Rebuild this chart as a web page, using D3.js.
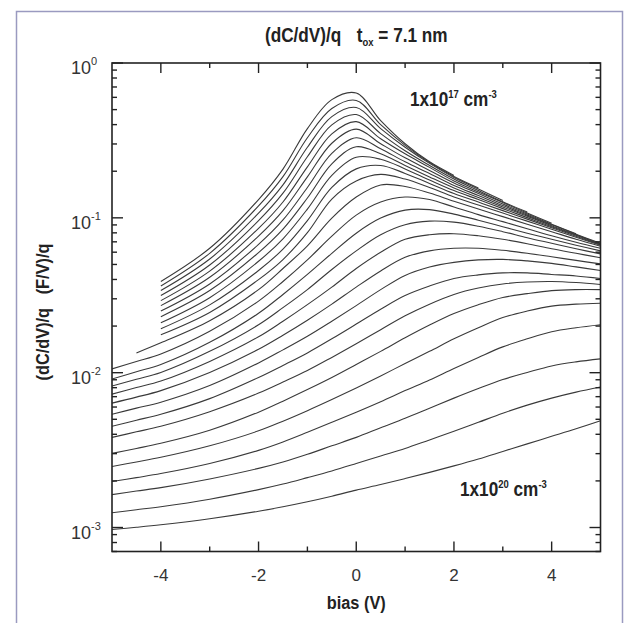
<!DOCTYPE html>
<html lang="en">
<head>
<meta charset="UTF-8">
<title>(dC/dV)/q  tox = 7.1 nm</title>
<script src="https://d3js.org/d3.v7.min.js"></script>
<style>
  body { margin: 0; background: #fff; }
  svg { display: block; }
  .cond { font-family: "Liberation Sans", Arial, sans-serif; font-weight: bold; fill: #222; }
  .num { font-family: "Liberation Sans", Arial, sans-serif; fill: #333; }
</style>
</head>
<body>
<svg id="chart" width="635" height="623"></svg>
<script>
// bias points (V) shared by every curve; null = curve not drawn there
const bias = [-5, -4.5, -4, -3, -2, -1.5, -1, -0.5, 0, 0.5, 1, 1.5, 2, 2.5, 3, 3.5, 4, 4.5, 5];

// (dC/dV)/q in (F/V)/q, top curve = 1x10^17 cm^-3 ... bottom = 1x10^20 cm^-3
const curve01 = [null, null, 0.0388, 0.0636, 0.1313, 0.2065, 0.377, 0.58, 0.64, 0.4245, 0.301, 0.230, 0.188, null, null, null, null, null, null];
const curve02 = [null, null, 0.0363, 0.0590, 0.1194, 0.1846, 0.329, 0.508, 0.573, 0.400, 0.294, 0.228, 0.185, 0.156, null, null, null, null, null];
const curve03 = [null, null, 0.0339, 0.0542, 0.1072, 0.1633, 0.2856, 0.4506, 0.5155, 0.377, 0.2856, 0.2248, 0.1824, 0.1536, 0.1293, null, null, null, null];
const curve04 = [null, null, 0.0315, 0.0496, 0.0959, 0.1443, 0.248, 0.3987, 0.4644, 0.350, 0.271, 0.218, 0.178, 0.150, 0.127, 0.109, null, null, null];
const curve05 = [null, null, 0.0292, 0.0453, 0.0855, 0.1266, 0.2134, 0.3485, 0.418, 0.324, 0.259, 0.2118, 0.173, 0.147, 0.1255, 0.1073, 0.0924, null, null];
const curve06 = [null, null, 0.0271, 0.0413, 0.0762, 0.1112, 0.1838, 0.3033, 0.3739, 0.301, 0.244, 0.2025, 0.168, 0.1436, 0.1227, 0.1057, 0.0910, 0.0790, null];
const curve07 = [null, null, 0.0250, 0.0374, 0.0674, 0.0969, 0.1571, 0.261, 0.329, 0.2793, 0.230, 0.1936, 0.1618, 0.1394, 0.1200, 0.1041, 0.0903, 0.0784, 0.0685];
const curve08 = [null, null, 0.0230, 0.0339, 0.0596, 0.0845, 0.1343, 0.2232, 0.2878, 0.259, 0.218, 0.1838, 0.156, 0.1353, 0.1174, 0.1026, 0.0890, 0.0778, 0.0680];
const curve09 = [null, null, 0.0210, 0.0305, 0.0524, 0.0732, 0.1139, 0.188, 0.246, 0.2388, 0.2071, 0.1757, 0.150, 0.1313, 0.1147, 0.1003, 0.0877, 0.0772, 0.0675];
const curve10 = [null, null, 0.0192, 0.0274, 0.0457, 0.0628, 0.0959, 0.1571, 0.2071, 0.218, 0.1936, 0.1668, 0.1436, 0.1264, 0.1113, 0.0981, 0.0864, 0.0761, 0.0670];
const curve11 = [null, null, 0.01757, 0.0245, 0.0399, 0.0538, 0.0802, 0.1322, 0.173, 0.1908, 0.178, 0.1571, 0.1363, 0.1209, 0.1073, 0.0952, 0.0845, 0.0749, 0.0665];
const curve12 = [null, 0.01342, 0.01559, 0.02166, 0.0344, 0.0471, 0.0660, 0.0996, 0.1363, 0.1631, 0.1595, 0.1447, 0.128, 0.1139, 0.1018, 0.0910, 0.0814, 0.0727, 0.0655];
const curve13 = [0.01057, 0.01182, 0.01322, 0.01851, 0.0290, 0.0388, 0.0535, 0.0761, 0.1041, 0.1264, 0.1363, 0.1313, 0.1174, 0.1049, 0.0945, 0.0851, 0.0766, 0.0695, 0.0636];
const curve14 = [0.00910, 0.01014, 0.01130, 0.01571, 0.0242, 0.0320, 0.0431, 0.0590, 0.0796, 0.0996, 0.1122, 0.1130, 0.1057, 0.0966, 0.0877, 0.0796, 0.0727, 0.0665, 0.0612];
const curve15 = [0.00820, 0.00907, 0.01003, 0.01373, 0.0204, 0.0263, 0.0344, 0.0464, 0.0612, 0.0778, 0.0903, 0.0952, 0.0938, 0.0883, 0.0814, 0.0744, 0.0685, 0.0631, 0.0585];
const curve16 = [0.00727, 0.00802, 0.00883, 0.01182, 0.01705, 0.0215, 0.0275, 0.0357, 0.0471, 0.0599, 0.0727, 0.0778, 0.0790, 0.0766, 0.0727, 0.0680, 0.0631, 0.0590, 0.0552];
const curve17 = [0.00636, 0.00695, 0.00766, 0.01003, 0.01415, 0.01744, 0.0218, 0.0277, 0.0357, 0.0454, 0.0556, 0.0612, 0.0636, 0.0636, 0.0617, 0.0590, 0.0560, 0.0531, 0.0504];
const curve18 = [0.00539, 0.00590, 0.00645, 0.00826, 0.01156, 0.01404, 0.01719, 0.0215, 0.0271, 0.0344, 0.0425, 0.0482, 0.0516, 0.0535, 0.0539, 0.0527, 0.0508, 0.0482, 0.0457];
const curve19 = [0.00451, 0.00493, 0.00539, 0.00680, 0.00931, 0.01114, 0.01342, 0.01655, 0.0206, 0.0257, 0.0315, 0.0363, 0.0406, 0.0428, 0.0441, 0.0441, 0.0431, 0.0421, 0.0406];
const curve20 = [0.00382, 0.00415, 0.00451, 0.00560, 0.00738, 0.00870, 0.01033, 0.01255, 0.01536, 0.01894, 0.0233, 0.0277, 0.0320, 0.0352, 0.0374, 0.0385, 0.0388, 0.0382, 0.0371];
const curve21 = [0.00301, 0.00324, 0.00350, 0.00425, 0.00556, 0.00655, 0.00778, 0.00931, 0.01130, 0.01373, 0.01680, 0.0203, 0.0241, 0.0275, 0.0306, 0.0324, 0.0339, 0.0344, 0.0344];
const curve22 = [0.00248, 0.00265, 0.00284, 0.00337, 0.00421, 0.00486, 0.00568, 0.00670, 0.00796, 0.00952, 0.01147, 0.01373, 0.01655, 0.01951, 0.0227, 0.0250, 0.0269, 0.0277, 0.0281];
const curve23 = [0.00198, 0.00210, 0.00223, 0.00259, 0.00315, 0.00357, 0.00412, 0.00478, 0.00556, 0.00650, 0.00766, 0.00897, 0.01065, 0.01255, 0.01468, 0.01655, 0.01838, 0.01951, 0.0204];
const curve24 = [0.00163, 0.00172, 0.00181, 0.00206, 0.00241, 0.00265, 0.00297, 0.00337, 0.00382, 0.00441, 0.00508, 0.00590, 0.00685, 0.00790, 0.00903, 0.01003, 0.01105, 0.01174, 0.01227];
const curve25 = [0.001246, 0.001303, 0.001363, 0.001524, 0.001757, 0.001908, 0.00210, 0.00232, 0.00259, 0.00290, 0.00324, 0.00368, 0.00418, 0.00478, 0.00547, 0.00617, 0.00685, 0.00749, 0.00808];
const curve26 = [0.00097, 0.001003, 0.001041, 0.001139, 0.001274, 0.001363, 0.001468, 0.001594, 0.001744, 0.001894, 0.00207, 0.00227, 0.00250, 0.00277, 0.00310, 0.00347, 0.00388, 0.00434, 0.00489];

const curves = [curve01, curve02, curve03, curve04, curve05, curve06, curve07, curve08, curve09, curve10,
  curve11, curve12, curve13, curve14, curve15, curve16, curve17, curve18, curve19, curve20,
  curve21, curve22, curve23, curve24, curve25, curve26];

const xMajor = [-4, -2, 0, 2, 4];
const xMinor = [-3, -1, 1, 3];
const yDecades = [1e-3, 1e-2, 1e-1, 1];
const yExponents = ["-3", "-2", "-1", "0"];

const svg = d3.select("#chart");
const x = d3.scaleLinear().domain([-5, 5]).range([112, 600.5]);
const y = d3.scaleLog().domain([7e-4, 1]).range([551.5, 63]);
const [y0, y1] = y.range();
const [x0, x1] = x.range();

// outer frame
svg.append("rect")
  .attr("x", 16.5).attr("y", 11.5).attr("width", 606).attr("height", 640)
  .attr("fill", "none").attr("stroke", "#9a9ac0").attr("stroke-width", 1.5);

svg.append("clipPath").attr("id", "plot-clip")
  .append("rect").attr("x", x0).attr("y", y1).attr("width", x1 - x0).attr("height", y0 - y1);

// curves
const line = d3.line()
  .defined(d => d[1] != null)
  .x(d => x(d[0]))
  .y(d => y(d[1]))
  .curve(d3.curveCatmullRom.alpha(0.5));

svg.append("g").attr("clip-path", "url(#plot-clip)")
  .selectAll("path")
  .data(curves)
  .join("path")
  .attr("d", c => line(bias.map((b, i) => [b, c[i]])))
  .attr("fill", "none")
  .attr("stroke", "#3a3a3a")
  .attr("stroke-width", 1.1);

// plot box
svg.append("rect")
  .attr("x", x0).attr("y", y1).attr("width", x1 - x0).attr("height", y0 - y1)
  .attr("fill", "none").attr("stroke", "#222").attr("stroke-width", 1.6);

// ticks, all pointing inward
const tk = svg.append("g").attr("stroke", "#222").attr("stroke-width", 1.4);
xMajor.concat(xMinor).forEach(v => {
  const len = xMajor.includes(v) ? 10 : 5;
  tk.append("line").attr("x1", x(v)).attr("x2", x(v)).attr("y1", y0).attr("y2", y0 - len);
  tk.append("line").attr("x1", x(v)).attr("x2", x(v)).attr("y1", y1).attr("y2", y1 + len);
});
y.ticks().forEach(v => {
  const major = yDecades.some(d => Math.abs(d - v) / d < 1e-6);
  const len = major ? 11 : 5;
  tk.append("line").attr("x1", x0).attr("x2", x0 + len).attr("y1", y(v)).attr("y2", y(v));
  tk.append("line").attr("x1", x1).attr("x2", x1 - len).attr("y1", y(v)).attr("y2", y(v));
});

// y tick labels 10^n
yDecades.forEach((d, i) => {
  const t = svg.append("text").attr("class", "num")
    .attr("x", 71).attr("y", y(d) + 11).attr("font-size", 18);
  t.append("tspan").text("10");
  t.append("tspan").attr("dy", -9).attr("font-size", 11).text(yExponents[i]);
});

// x tick labels
svg.append("g").selectAll("text")
  .data(xMajor)
  .join("text")
  .attr("class", "num")
  .attr("x", d => x(d))
  .attr("y", 581)
  .attr("font-size", 17)
  .attr("text-anchor", "middle")
  .text(d => String(d));

// condensed bold text (no narrow face installed, so squeeze horizontally)
function condText(px, py, size, anchor, rotate) {
  const g = svg.append("g")
    .attr("transform", `translate(${px},${py})` + (rotate ? ` rotate(${rotate})` : "") + " scale(0.86,1)");
  return g.append("text").attr("class", "cond")
    .attr("font-size", size).attr("text-anchor", anchor);
}

condText((x0 + x1) / 2, 609, 19, "middle").text("bias (V)");

condText(49, 312, 19, "middle", -90)
  .attr("xml:space", "preserve")
  .text("(dC/dV)/q   (F/V)/q");

// title
const title = condText((x0 + x1) / 2, 42, 20, "middle");
title.append("tspan").text("(dC/dV)/q");
title.append("tspan").attr("dx", 18).text("t");
title.append("tspan").attr("dy", 4).attr("font-size", 11).text("ox");
title.append("tspan").attr("dy", -4).text(" = 7.1 nm");

// doping labels
function dopingLabel(px, py, exp) {
  const t = condText(px, py, 20, "start");
  t.append("tspan").text("1x10");
  t.append("tspan").attr("dy", -8).attr("font-size", 11).text(exp);
  t.append("tspan").attr("dy", 8).text(" cm");
  t.append("tspan").attr("dy", -8).attr("font-size", 11).text("-3");
}
dopingLabel(410, 106, "17");
dopingLabel(460, 496, "20");
</script>
</body>
</html>
